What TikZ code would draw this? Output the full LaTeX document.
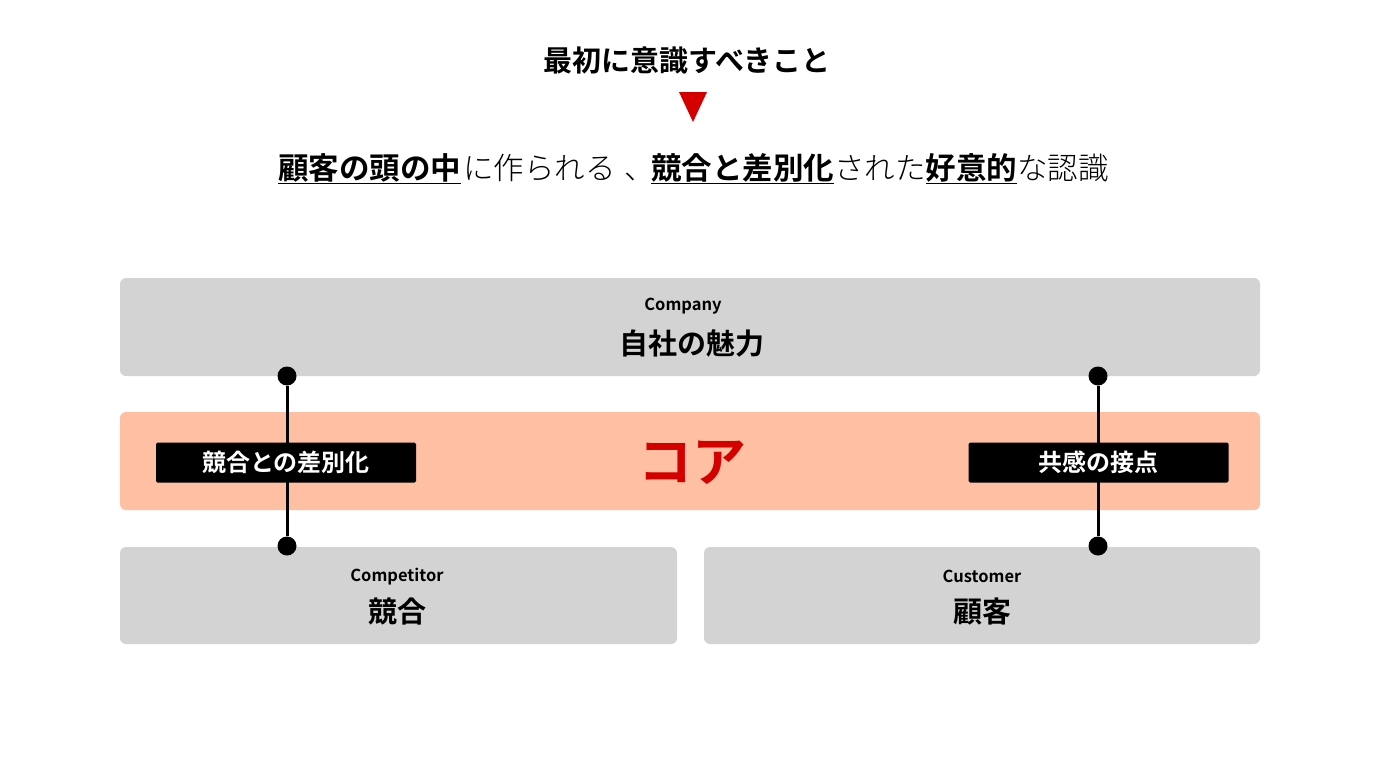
\documentclass[tikz,border=0pt]{standalone}
\usepackage{fontspec}
\newfontfamily\jp{Noto Sans CJK JP}[BoldFont={Noto Sans CJK JP Bold}]
\newfontfamily\jplight{Noto Sans CJK JP Light}
\definecolor{panelgray}{RGB}{211,211,211}
\definecolor{coresalmon}{RGB}{255,191,163}
\definecolor{corered}{RGB}{212,0,0}
\newcommand{\fs}[1]{\fontsize{#1pt}{#1pt}\selectfont}
\tikzset{
  panel/.style={fill=panelgray, rounded corners=6pt, inner sep=0pt},
  corepanel/.style={fill=coresalmon, rounded corners=6pt, inner sep=0pt},
  tag/.style={fill=black, text=white, rounded corners=1.5pt, inner sep=0pt,
    minimum width=260pt, minimum height=40pt, font=\jp\bfseries\fs{24}},
  dot/.style={circle, fill=black, inner sep=0pt, minimum size=19pt},
  small/.style={font=\jp\bfseries\fs{16.5}},
  big/.style={font=\jp\bfseries\fs{29}},
}
\begin{document}
\begin{tikzpicture}[x=1pt,y=-1pt]
\useasboundingbox (0,0) rectangle (1374,772);

% Heading and arrow
\node[font=\jp\bfseries\fs{29}] (head) at (687,61) {最初に意識すべきこと};
\fill[corered] (679,92) -- (707,92) -- (693,122) -- cycle;
\node[font=\jplight\fs{30.5}, anchor=base] (claim) at (693.5,179)
  {{\jp\bfseries\underline{顧客の頭の中}}\hspace{2pt}に作られる\hspace{9pt}、\hspace{-4pt}{\jp\bfseries\underline{競合と差別化}}された{\jp\bfseries\underline{好意的}}な認識};

% Panels
\node[panel, minimum width=1140pt, minimum height=98pt] (company) at (690,327) {};
\node[corepanel, minimum width=1140pt, minimum height=98pt] (core) at (690,461) {};
\node[panel, minimum width=557pt, minimum height=97pt] (competitor) at (398.5,595.5) {};
\node[panel, minimum width=556pt, minimum height=97pt] (customer) at (982,595.5) {};

\node[small] (companyen) at (683,306) {Company};
\node[big] (companyjp) at (692,343) {自社の魅力};
\node[small] (competitoren) at (397,577) {Competitor};
\node[big] (competitorjp) at (397,612) {競合};
\node[small] (customeren) at (982,576) {Customer};
\node[big] (customerjp) at (982,612) {顧客};
\node[font=\jp\bfseries\fs{54}, text=corered] (corelabel) at (692,463) {コア};

% Links through the core
\foreach \name/\x in {diff/287, empathy/1098} {
  \node[dot] (\name top) at (\x,376) {};
  \node[dot] (\name bot) at (\x,546) {};
  \draw[line width=3pt] (\name top) -- (\name bot);
}
\node[tag] (difftag) at (286,462.5) {競合との差別化};
\node[tag] (empathytag) at (1098.5,462.5) {共感の接点};

\end{tikzpicture}
\end{document}
